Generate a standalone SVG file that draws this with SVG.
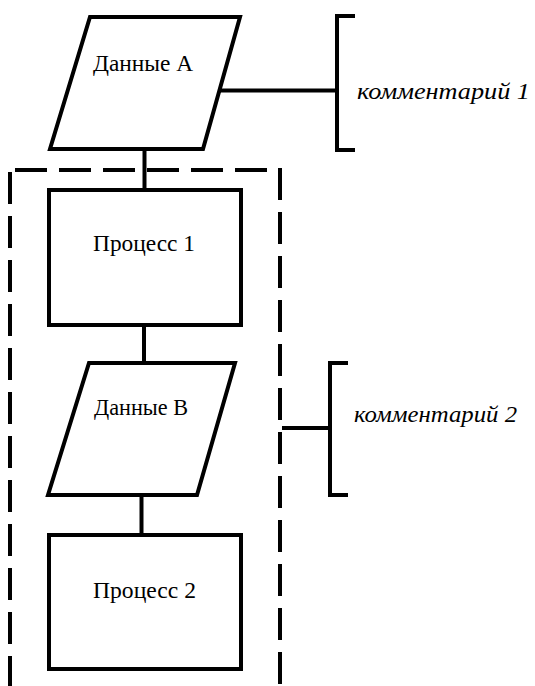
<svg xmlns="http://www.w3.org/2000/svg" width="535" height="686" viewBox="0 0 535 686">
<style>
.shape{fill:#fff;stroke:#000;stroke-width:4;stroke-linejoin:miter}
.line{fill:none;stroke:#000;stroke-width:4}
.dash{fill:none;stroke:#000;stroke-width:4;stroke-dasharray:32 12}
.lbl{font-family:"Liberation Serif","Times New Roman",serif;font-size:24px;fill:#000;text-anchor:middle}
.cmt{font-family:"Liberation Serif","Times New Roman",serif;font-size:24px;font-style:italic;fill:#000}
</style>
<rect width="535" height="686" fill="#fff"/>
<g id="group-boundary">
<path class="dash" d="M15,170 H268"/>
<path class="dash" d="M10,172 V686"/>
<path class="dash" d="M280,168 V686"/>
</g>
<g id="connectors">
<path class="line" d="M144.5,149 V190"/>
<path class="line" d="M144,325 V363"/>
<path class="line" d="M141.5,495 V535"/>
<path class="line" d="M220,90.5 H337"/>
<path class="line" d="M282,428 H330"/>
</g>
<g id="dataA">
<polygon class="shape" points="90,17 240,17 203,149 50,149"/>
<text class="lbl" x="143" y="71" textLength="100" lengthAdjust="spacingAndGlyphs">Данные A</text>
</g>
<g id="process1">
<rect class="shape" x="49" y="190" width="192" height="135"/>
<text class="lbl" x="144" y="251" textLength="102" lengthAdjust="spacingAndGlyphs">Процесс 1</text>
</g>
<g id="dataB">
<polygon class="shape" points="89,363 235,363 197,495 48,495"/>
<text class="lbl" x="141" y="415" textLength="94" lengthAdjust="spacingAndGlyphs">Данные B</text>
</g>
<g id="process2">
<rect class="shape" x="49" y="535" width="192" height="134"/>
<text class="lbl" x="144.5" y="598" textLength="103" lengthAdjust="spacingAndGlyphs">Процесс 2</text>
</g>
<g id="comment1">
<path class="line" d="M355,16 H337 V150 H355"/>
<text class="cmt" x="357" y="99" textLength="173" lengthAdjust="spacingAndGlyphs">комментарий 1</text>
</g>
<g id="comment2">
<path class="line" d="M348,363 H330 V495 H348"/>
<text class="cmt" x="354" y="422" textLength="163" lengthAdjust="spacingAndGlyphs">комментарий 2</text>
</g>
</svg>
